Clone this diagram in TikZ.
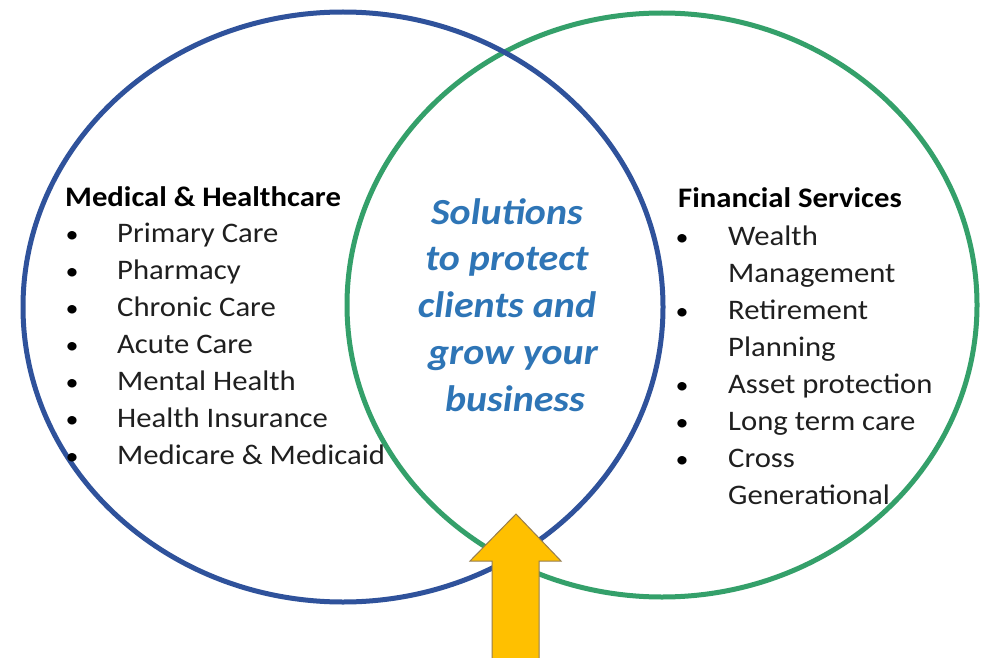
\documentclass[tikz,border=0pt]{standalone}
\usepackage{graphicx}
\usepackage{fontspec}
\setmainfont{Carlito}
\definecolor{blueC}{RGB}{47,82,155}
\definecolor{greenC}{RGB}{52,160,106}
\definecolor{txtblue}{RGB}{46,117,182}
\definecolor{arrowY}{RGB}{255,192,0}
\definecolor{arrowE}{RGB}{150,125,80}
\newcommand{\sxw}[1]{\scalebox{1.085}[1]{#1}}
\begin{document}
\begin{tikzpicture}[x=1pt,y=-1pt,
  item/.style={anchor=base west, inner sep=0pt, font=\fontsize{28.3}{34}\selectfont, text=black!88},
  head/.style={anchor=base west, inner sep=0pt, font=\fontsize{28.3}{34}\selectfont\bfseries, text=black},
  bul/.style={anchor=base, inner sep=0pt, font=\fontsize{24}{30}\selectfont, text=black},
  ctr/.style={anchor=base, inner sep=0pt, font=\fontsize{36.8}{44}\selectfont\bfseries\itshape, text=txtblue},
  ring/.style={line width=5pt}]
\useasboundingbox (0,0) rectangle (982,658);
\fill[white] (0,0) rectangle (982,658);
\begin{scope}
\clip (0,0) rectangle (982,658);
\draw[ring, greenC] (662,305) ellipse [x radius=315, y radius=292];
\draw[ring, blueC] (343,307) ellipse [x radius=320, y radius=295];
\filldraw[fill=arrowY, draw=arrowE, line width=1pt]
  (492,675) -- (492,561) -- (470,561) -- (516,514) -- (561,561) -- (539,561) -- (539,675) -- cycle;
\end{scope}
% left list
\node[head] (mh) at (65,206) {\sxw{Medical \& Healthcare}};
\foreach \t [count=\i] in {Primary Care,Pharmacy,Chronic Care,Acute Care,Mental Health,Health Insurance,Medicare \& Medicaid}{
  \node[bul] (lb\i) at (72,{205+37*\i}) {\sxw{•}};
  \node[item] (li\i) at (117,{205+37*\i}) {\sxw{\t}};
}
% right list
\node[head] (fs) at (678,207) {\sxw{Financial Services}};
\node[bul] (rb1) at (682,245) {\sxw{•}};
\node[item] (ri1) at (728,245) {\sxw{Wealth}};
\node[item] (ri1b) at (728,282) {\sxw{Management}};
\node[bul] (rb2) at (682,319) {\sxw{•}};
\node[item] (ri2) at (728,319) {\sxw{Retirement}};
\node[item] (ri2b) at (728,356) {\sxw{Planning}};
\node[bul] (rb3) at (682,393) {\sxw{•}};
\node[item] (ri3) at (728,393) {\sxw{Asset protection}};
\node[bul] (rb4) at (682,430) {\sxw{•}};
\node[item] (ri4) at (728,430) {\sxw{Long term care}};
\node[bul] (rb5) at (682,467) {\sxw{•}};
\node[item] (ri5) at (728,467) {\sxw{Cross}};
\node[item] (ri5b) at (728,504) {\sxw{Generational}};
% centre text
\node[ctr] (c1) at (507,224) {\sxw{Solutions}};
\node[ctr] (c2) at (507,270) {\sxw{to protect}};
\node[ctr] (c3) at (507,317) {\sxw{clients and}};
\node[ctr] (c4) at (513,364) {\sxw{grow your}};
\node[ctr] (c5) at (515,411) {\sxw{business}};
\end{tikzpicture}
\end{document}
